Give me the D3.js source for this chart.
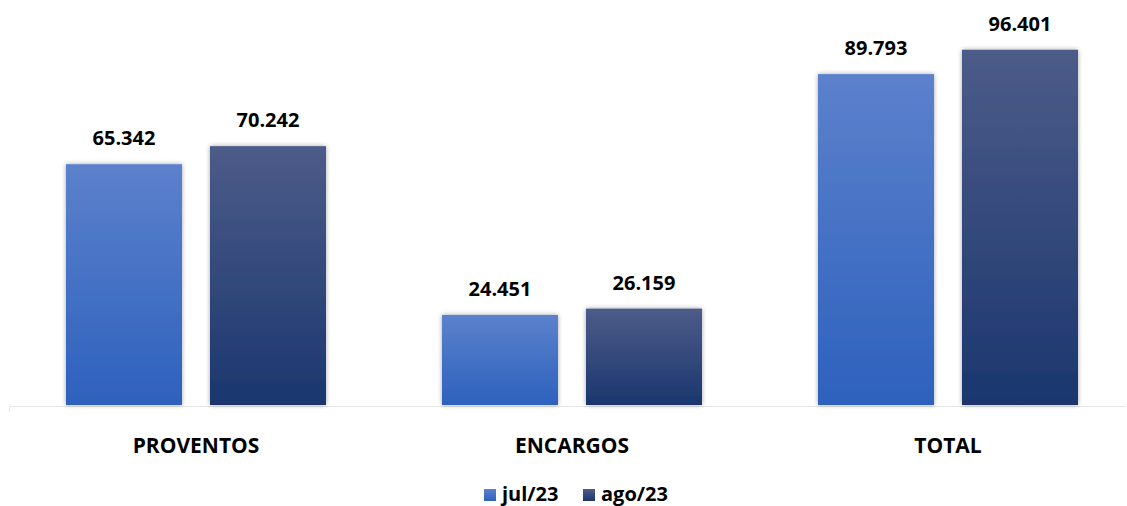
<!DOCTYPE html>
<html><head><meta charset="utf-8">
<script src="https://cdn.jsdelivr.net/npm/d3@7"></script>
<style>body{margin:0;background:#fff}svg{display:block}text{font-family:"Open Sans",sans-serif;font-weight:bold;fill:#000}</style>
</head><body><svg id="c" width="1127" height="506"></svg>
<script>
const categories = ["PROVENTOS", "ENCARGOS", "TOTAL"];
const seriesNames = ["jul/23", "ago/23"];
const jul23 = [65342, 24451, 89793];
const ago23 = [70242, 26159, 96401];
const valueLabels = [["65.342","24.451","89.793"],["70.242","26.159","96.401"]];

const svg = d3.select("#c");
const x0 = d3.scaleBand().domain(categories).range([8, 1136]);
const series = [jul23, ago23];
const y = d3.scaleLinear().domain([0, 100000]).range([405, 36.5]);
const colors = [["#5c81cc","#2d61bd"],["#4c5c89","#1b366e"]];

const defs = svg.append("defs");
colors.forEach((c,i)=>{
  const g = defs.append("linearGradient").attr("id","g"+i).attr("x1",0).attr("y1",0).attr("x2",0).attr("y2",1);
  g.append("stop").attr("offset","0%").attr("stop-color",c[0]);
  g.append("stop").attr("offset","100%").attr("stop-color",c[1]);
});
const f = defs.append("filter").attr("id","sh").attr("x","-20%").attr("y","-20%").attr("width","140%").attr("height","140%");
f.append("feGaussianBlur").attr("in","SourceAlpha").attr("stdDeviation",2.5);
f.append("feComponentTransfer").append("feFuncA").attr("type","linear").attr("slope",0.35);
const m = f.append("feMerge"); m.append("feMergeNode"); m.append("feMergeNode").attr("in","SourceGraphic");

svg.append("line").attr("x1",9).attr("x2",1126).attr("y1",406.5).attr("y2",406.5).attr("stroke","#e6e6e6");
svg.append("line").attr("x1",9.5).attr("x2",9.5).attr("y1",406).attr("y2",412).attr("stroke","#e6e6e6");

const barW = 116, gap = 28;
categories.forEach((cat, ci)=>{
  const cx = x0(cat) + x0.bandwidth()/2;
  series.forEach((s, si)=>{
    const bx = cx - gap/2 - barW + si*(barW+gap);
    svg.append("rect").attr("x",bx).attr("y",y(s[ci])).attr("width",barW).attr("height",y(0)-y(s[ci]))
      .attr("fill","url(#g"+si+")").attr("filter","url(#sh)");
    svg.append("text").attr("x",bx+barW/2).attr("y",y(s[ci])-19).attr("text-anchor","middle")
      .attr("font-size",20).text(valueLabels[si][ci]);
  });
  svg.append("text").attr("x",cx).attr("y",453).attr("text-anchor","middle").attr("font-size",21).text(cat);
});

const leg = [{x:484, tx:502},{x:583, tx:601}];
seriesNames.forEach((n,i)=>{
  svg.append("rect").attr("x",leg[i].x).attr("y",489).attr("width",12).attr("height",12).attr("fill","url(#g"+i+")");
  svg.append("text").attr("x",leg[i].tx).attr("y",501).attr("font-size",20).text(n);
});
</script></body></html>
